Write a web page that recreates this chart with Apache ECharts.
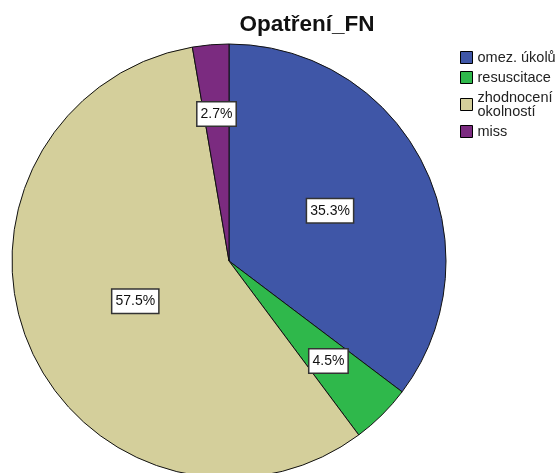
<!DOCTYPE html>
<html>
<head>
<meta charset="utf-8">
<script src="https://cdn.jsdelivr.net/npm/echarts@6/dist/echarts.min.js"></script>
<style>
  html, body { margin: 0; padding: 0; background: #fff; }
  #chart { width: 558px; height: 473px; }
</style>
</head>
<body>
<div id="chart"></div>
<script>
// data
const categories = ['omez. úkolů', 'resuscitace', 'zhodnocení\nokolností', 'miss'];
const values = [35.3, 4.5, 57.5, 2.7];
const colors = ['#3f56a7', '#2fb84b', '#d4cf9b', '#7b2b80'];
// how far out each label sits (share of radius)
const labelRadius = [0.52, 0.65, 0.47, 0.68];

const cx = 229, cy = 261, R = 217;

const chart = echarts.init(document.getElementById('chart'));
const total = values.reduce((a, b) => a + b, 0);

function labelPos(i) {
  let before = 0;
  for (let k = 0; k < i; k++) before += values[k];
  const mid = (before + values[i] / 2) / total * Math.PI * 2;
  const r = labelRadius[i] * R;
  return { x: cx + Math.sin(mid) * r, y: cy - Math.cos(mid) * r };
}

chart.setOption({
  animation: false,
  title: {
    text: 'Opatření_FN',
    left: 302,
    top: 8,
    textAlign: 'center',
    textStyle: { fontFamily: 'Liberation Sans', fontWeight: 'bold', fontSize: 22.5, color: '#111' }
  },
  legend: {
    orient: 'vertical',
    left: 455,
    top: 45,
    icon: 'rect',
    itemWidth: 12,
    itemHeight: 12,
    itemGap: 5,
    itemStyle: { borderColor: '#000', borderWidth: 1 },
    textStyle: { fontFamily: 'Liberation Sans', fontSize: 14.5, color: '#222', lineHeight: 14 },
    data: categories
  },
  series: [{
    type: 'pie',
    center: [cx, cy],
    radius: R,
    startAngle: 90,
    clockwise: true,
    color: colors,
    itemStyle: { borderColor: '#111', borderWidth: 1 },
    label: {
      show: true,
      position: 'inside',
      formatter: p => p.value.toFixed(1) + '%',
      fontFamily: 'Liberation Sans',
      fontSize: 14,
      color: '#111',
      backgroundColor: '#fff',
      borderColor: '#333',
      borderWidth: 1.5,
      padding: [5, 3, 4, 3]
    },
    labelLayout: p => {
      const pos = labelPos(p.dataIndex);
      return { x: pos.x, y: pos.y, align: 'center', verticalAlign: 'middle' };
    },
    emphasis: { disabled: true },
    data: categories.map((c, i) => ({ name: c, value: values[i] }))
  }]
});
</script>
</body>
</html>
